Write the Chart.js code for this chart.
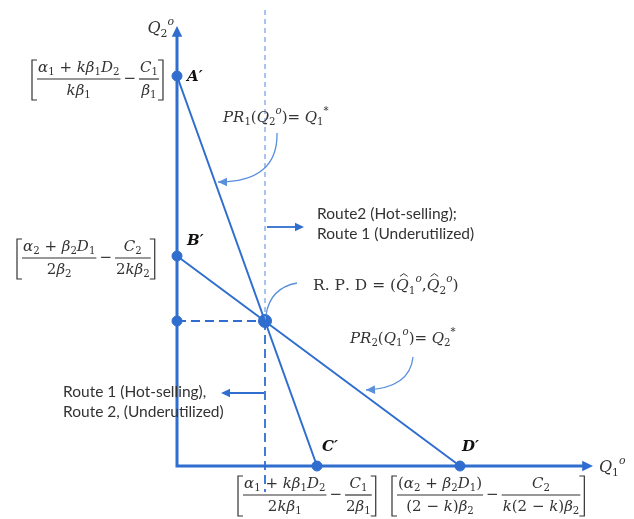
<!DOCTYPE html>
<html>
<head>
<meta charset="utf-8">
<script src="https://cdn.jsdelivr.net/npm/chart.js@4"></script>
<style>
  html, body { margin: 0; background: #fff; }
  #wrap { width: 634px; height: 519px; }
</style>
</head>
<body>
<div id="wrap"><canvas id="chart"></canvas></div>
<script>
// intercepts of the two reaction lines
const pointNames = ["A′", "B′", "C′", "D′"];
const pointX = [0, 0, 14.0, 28.3];
const pointY = [39.0, 21.0, 0, 0];
// R.P.D (intersection)
const rpdX = 8.8;
const rpdY = 14.5;
// axis arrow tips and guide line ends
const axisTipX = 41.6;
const axisTipY = 44.0;
const guideTop = 45.6;
const guideBottom = -2.6;

const BLUE = '#2F6ECF';
const LIGHT = '#8CB3EC';
const CURVE = '#5A8FDC';
const INK = '#333333';

// ---------- tiny rich text: _x subscript, ^x superscript, #x hat ----------
function parseRich(s) {
  const out = [];
  for (let i = 0; i < s.length; i++) {
    const ch = s[i];
    if ((ch === '_' || ch === '^') && i + 1 < s.length) {
      out.push({ t: s[i + 1], mode: ch === '_' ? 'sub' : 'sup' });
      i++;
    } else if (ch === '#') {
      out.push({ t: s[i + 1], mode: 'norm', hat: true });
      i++;
    } else {
      out.push({ t: ch, mode: 'norm' });
    }
  }
  return out;
}

function tokFont(tok, size, upright) {
  const sz = tok.mode === 'norm' ? size : size * 0.68;
  const italic = !upright && /[A-Za-zα-ωΑ-Ω]/.test(tok.t);
  return (italic ? 'italic ' : '') + sz.toFixed(1) + 'px "DejaVu Serif"';
}

function richWidth(ctx, s, size, upright) {
  let w = 0;
  for (const tok of parseRich(s)) {
    ctx.font = tokFont(tok, size, upright);
    w += ctx.measureText(tok.t).width;
  }
  return w;
}

function drawRich(ctx, s, x, y, size, opts = {}) {
  const upright = !!opts.upright;
  const w = richWidth(ctx, s, size, upright);
  if (opts.align === 'center') x -= w / 2;
  if (opts.align === 'right') x -= w;
  ctx.textBaseline = 'middle';
  ctx.textAlign = 'left';
  ctx.fillStyle = opts.color || INK;
  for (const tok of parseRich(s)) {
    ctx.font = tokFont(tok, size, upright);
    let dy = 0;
    if (tok.mode === 'sub') dy = size * 0.32;
    if (tok.mode === 'sup') dy = -size * 0.42;
    ctx.fillText(tok.t, x, y + dy);
    const tw = ctx.measureText(tok.t).width;
    if (tok.hat) {
      ctx.save();
      ctx.strokeStyle = ctx.fillStyle;
      ctx.lineWidth = 1;
      ctx.beginPath();
      ctx.moveTo(x + tw * 0.3, y - size * 0.62);
      ctx.lineTo(x + tw * 0.6, y - size * 0.8);
      ctx.lineTo(x + tw * 0.9, y - size * 0.62);
      ctx.stroke();
      ctx.restore();
    }
    x += tw;
  }
  return x;
}

// [ num/den − num/den ]
function drawBracketExpr(ctx, parts, left, barY, size) {
  ctx.save();
  ctx.strokeStyle = INK;
  ctx.lineWidth = 1.2;
  const top = barY - 19, bot = barY + 21;
  const bracket = (bx, dir) => {
    ctx.beginPath();
    ctx.moveTo(bx + dir * 5, top);
    ctx.lineTo(bx, top);
    ctx.lineTo(bx, bot);
    ctx.lineTo(bx + dir * 5, bot);
    ctx.stroke();
  };
  bracket(left, 1);
  let x = left + 5;
  for (const p of parts) {
    if (typeof p === 'string') {
      ctx.font = size + 'px "DejaVu Serif"';
      const mw = ctx.measureText(p).width;
      ctx.fillStyle = INK;
      ctx.textBaseline = 'middle';
      ctx.fillText(p, x + 3, barY);
      x += mw + 6;
    } else {
      const wn = richWidth(ctx, p.num, size);
      const wd = richWidth(ctx, p.den, size);
      const w = Math.max(wn, wd) + 2;
      drawRich(ctx, p.num, x + w / 2, barY - 11, size, { align: 'center' });
      drawRich(ctx, p.den, x + w / 2, barY + 12, size, { align: 'center' });
      ctx.beginPath();
      ctx.moveTo(x, barY);
      ctx.lineTo(x + w, barY);
      ctx.stroke();
      x += w;
    }
  }
  bracket(x + 4, -1);
  ctx.restore();
}

function arrowHead(ctx, x, y, ang, len, color) {
  ctx.save();
  ctx.fillStyle = color;
  ctx.beginPath();
  ctx.moveTo(x, y);
  ctx.lineTo(x - len * Math.cos(ang - 0.45), y - len * Math.sin(ang - 0.45));
  ctx.lineTo(x - len * Math.cos(ang + 0.45), y - len * Math.sin(ang + 0.45));
  ctx.closePath();
  ctx.fill();
  ctx.restore();
}

function curveArrow(ctx, x0, y0, cx, cy, x1, y1, head) {
  ctx.save();
  ctx.strokeStyle = CURVE;
  ctx.lineWidth = 1.3;
  ctx.beginPath();
  ctx.moveTo(x0, y0);
  ctx.quadraticCurveTo(cx, cy, x1, y1);
  ctx.stroke();
  ctx.restore();
  if (head) arrowHead(ctx, x1, y1, Math.atan2(y1 - cy, x1 - cx), 10, CURVE);
}

function straightArrow(ctx, x0, y, x1) {
  ctx.save();
  ctx.strokeStyle = BLUE;
  ctx.lineWidth = 1.8;
  ctx.beginPath();
  ctx.moveTo(x0, y);
  ctx.lineTo(x1 - Math.sign(x1 - x0) * 6, y);
  ctx.stroke();
  ctx.restore();
  arrowHead(ctx, x1, y, x1 > x0 ? 0 : Math.PI, 10, BLUE);
}

// axes with arrowheads, under the datasets
const axesPlugin = {
  id: 'axes',
  beforeDatasetsDraw(chart) {
    const { ctx, scales: { x, y } } = chart;
    const ox = x.getPixelForValue(0), oy = y.getPixelForValue(0);
    const tx = x.getPixelForValue(axisTipX), ty = y.getPixelForValue(axisTipY);
    ctx.save();
    ctx.strokeStyle = BLUE;
    ctx.lineWidth = 3;
    ctx.beginPath();
    ctx.moveTo(ox, ty + 8);
    ctx.lineTo(ox, oy);
    ctx.lineTo(tx - 8, oy);
    ctx.stroke();
    ctx.restore();
    arrowHead(ctx, ox, ty, -Math.PI / 2, 12, BLUE);
    arrowHead(ctx, tx, oy, 0, 12, BLUE);
  }
};

// labels, formulas and annotation arrows
const notesPlugin = {
  id: 'notes',
  afterDatasetsDraw(chart) {
    const { ctx, scales: { x, y } } = chart;
    const px = v => x.getPixelForValue(v);
    const py = v => y.getPixelForValue(v);
    ctx.save();

    // axis names
    drawRich(ctx, 'Q_2^o', px(0) - 3, py(axisTipY) + 3, 16, { align: 'right' });
    drawRich(ctx, 'Q_1^o', px(axisTipX) + 6, py(0) + 2, 16);

    // point letters
    ctx.font = 'italic bold 15px "DejaVu Serif"';
    ctx.fillStyle = '#111';
    ctx.textBaseline = 'middle';
    ctx.fillText(pointNames[0], px(pointX[0]) + 10, py(pointY[0]) + 1);
    ctx.fillText(pointNames[1], px(pointX[1]) + 10, py(pointY[1]) - 15);
    ctx.fillText(pointNames[2], px(pointX[2]) + 5, py(pointY[2]) - 19);
    ctx.fillText(pointNames[3], px(pointX[3]) + 2, py(pointY[3]) - 19);

    // intercept formulas
    drawBracketExpr(ctx, [{ num: 'α_1 + kβ_1D_2', den: 'kβ_1' }, '−', { num: 'C_1', den: 'β_1' }],
      32, py(pointY[0]) + 3, 15);
    drawBracketExpr(ctx, [{ num: 'α_2 + β_2D_1', den: '2β_2' }, '−', { num: 'C_2', den: '2kβ_2' }],
      17, py(pointY[1]) + 2, 15);
    drawBracketExpr(ctx, [{ num: 'α_1 + kβ_1D_2', den: '2kβ_1' }, '−', { num: 'C_1', den: '2β_1' }],
      238, py(0) + 29, 15);
    drawBracketExpr(ctx, [{ num: '(α_2 + β_2D_1)', den: '(2 − k)β_2' }, '−', { num: 'C_2', den: 'k(2 − k)β_2' }],
      392, py(0) + 29, 15);

    // reaction function labels
    drawRich(ctx, 'PR_1(Q_2^o)= Q_1^*', 223, 118, 15);
    drawRich(ctx, 'PR_2(Q_1^o)= Q_2^*', 350, 339, 15);
    const xr = drawRich(ctx, 'R. P. D = (', 313, 286, 15.5, { upright: true });
    const xr2 = drawRich(ctx, '#Q_1^o,#Q_2^o', xr, 286, 15.5);
    drawRich(ctx, ')', xr2, 286, 15.5, { upright: true });

    curveArrow(ctx, 277, 133, 278, 182, 218, 182, true);
    curveArrow(ctx, 413, 357, 410, 388, 366, 390, true);
    curveArrow(ctx, 297, 283, 270, 288, 266, 315, false);

    // region notes
    straightArrow(ctx, 267, 227, 304);
    straightArrow(ctx, 264, 393, 221);
    ctx.font = '15.5px Lato';
    ctx.fillStyle = INK;
    ctx.textBaseline = 'middle';
    ctx.fillText('Route2 (Hot-selling);', 317, 214);
    ctx.fillText('Route 1 (Underutilized)', 317, 234);
    ctx.fillText('Route 1 (Hot-selling),', 63, 392);
    ctx.fillText('Route 2, (Underutilized)', 63, 412);
    ctx.restore();
  }
};

const line = (data, extra) => Object.assign({
  data, showLine: true, borderColor: BLUE, borderWidth: 2, pointRadius: 0, clip: false
}, extra);

new Chart(document.getElementById('chart'), {
  type: 'scatter',
  data: {
    datasets: [
      line([{ x: pointX[0], y: pointY[0] }, { x: pointX[2], y: pointY[2] }]),
      line([{ x: pointX[1], y: pointY[1] }, { x: pointX[3], y: pointY[3] }]),
      line([{ x: rpdX, y: guideTop }, { x: rpdX, y: rpdY }], { borderColor: LIGHT, borderWidth: 1.5, borderDash: [5, 4] }),
      line([{ x: rpdX, y: rpdY }, { x: rpdX, y: guideBottom }], { borderWidth: 1.8, borderDash: [9, 5] }),
      line([{ x: 0, y: rpdY }, { x: rpdX, y: rpdY }], { borderWidth: 1.8, borderDash: [9, 5] }),
      {
        data: pointX.map((v, i) => ({ x: v, y: pointY[i] }))
          .concat([{ x: 0, y: rpdY }, { x: rpdX, y: rpdY }]),
        pointRadius: [5, 5, 5, 5, 5, 6.5],
        backgroundColor: BLUE,
        borderColor: BLUE,
        clip: false
      }
    ]
  },
  options: {
    responsive: true,
    maintainAspectRatio: false,
    animation: false,
    layout: { padding: 0, autoPadding: false },
    plugins: { legend: { display: false }, tooltip: { enabled: false } },
    scales: {
      x: { type: 'linear', min: -17.7, max: 45.7, display: false },
      y: { type: 'linear', min: -5.3, max: 46.6, display: false }
    }
  },
  plugins: [axesPlugin, notesPlugin]
});
</script>
</body>
</html>
